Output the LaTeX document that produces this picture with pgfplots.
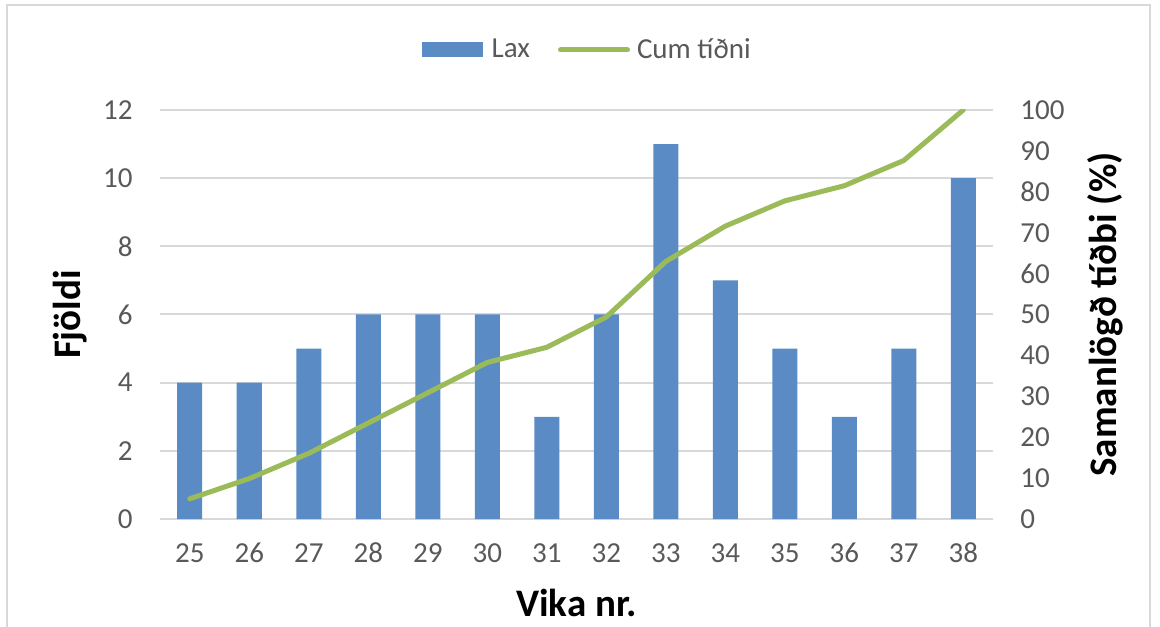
\documentclass[border=0pt]{standalone}
\usepackage{fontspec}
\setmainfont{Carlito}
\usepackage{pgfplots}
\pgfplotsset{compat=1.18}
\definecolor{barblue}{RGB}{91,139,197}
\definecolor{linegreen}{RGB}{155,187,89}
\definecolor{gridgray}{RGB}{217,217,217}
\definecolor{ticktext}{RGB}{89,89,89}
\begin{document}
\begin{tikzpicture}
\useasboundingbox (-80pt,-53.5pt) rectangle (500pt,259.5pt);
\draw[gridgray, line width=1pt] (-76.5pt,-60pt) -- (-76.5pt,257pt) -- (495pt,257pt) -- (495pt,-60pt);
\pgfplotsset{
  common/.style={
    scale only axis, width=416.5pt, height=204.5pt,
    at={(0,0)}, anchor=south west,
    xmin=24.5, xmax=38.5,
    /pgf/number format/assume math mode=true,
    tick style={draw=none},
    ticklabel style={font=\fontsize{14.5}{16}\selectfont, text=ticktext, inner sep=0pt},
  }
}
\begin{axis}[common,
  ymin=0, ymax=12, ytick={0,2,...,12},
  xtick={25,...,38},
  axis x line*=bottom, axis y line*=left,
  y axis line style={draw=none},
  x axis line style={gridgray, line width=1pt},
  ymajorgrids, grid style={gridgray, line width=1pt},
  yticklabel style={anchor=east, xshift=-13.5pt},
  xticklabel style={anchor=base, yshift=-21.5pt},
  xlabel={\textbf{Vika nr.}},
  xlabel style={font=\fontsize{19.5}{22}\selectfont, at={(axis description cs:0.5,0)}, anchor=center, yshift=-42pt},
  ylabel={\textbf{Fjöldi}},
  ylabel style={font=\fontsize{19.5}{22}\selectfont, at={(axis description cs:0,0.5)}, anchor=center, yshift=45pt},
  legend style={draw=none, at={(axis description cs:0.514,1)}, anchor=center, yshift=30pt,
    legend columns=2, font=\fontsize{14.5}{16}\selectfont, text=ticktext,
    /tikz/every even column/.append style={column sep=12pt},
    nodes={inner sep=2pt}},
]
\addplot[ybar, bar width=12.5pt, fill=barblue, draw=none,
  area legend,
  legend image code/.code={\fill[barblue] (0pt,-3.75pt) rectangle (30.5pt,3.75pt); \path (33pt,0pt);}]
  coordinates {(25,4) (26,4) (27,5) (28,6) (29,6) (30,6) (31,3) (32,6) (33,11) (34,7) (35,5) (36,3) (37,5) (38,10)};
\addlegendentry{Lax}
\addlegendimage{linegreen, line width=2.5pt, line cap=round,
  legend image code/.code={\draw[linegreen, line width=2.5pt, line cap=round] (0pt,0pt) -- (33.5pt,0pt); \path (35pt,0pt);}}
\addlegendentry{Cum tíðni}
\end{axis}
\begin{axis}[common,
  ymin=0, ymax=100, ytick={0,10,...,100},
  axis y line*=right, axis x line=none,
  y axis line style={draw=none},
  yticklabel style={anchor=west, xshift=13.5pt},
  ylabel={\textbf{Samanlögð tíðbi (\%)}},
  ylabel style={font=\fontsize{19.5}{22}\selectfont, at={(axis description cs:1,0.5)}, anchor=center, rotate=0, yshift=-56pt},
]
\addplot[linegreen, line width=2.5pt, line join=round, line cap=round]
  coordinates {(25,4.94) (26,9.88) (27,16.05) (28,23.46) (29,30.86) (30,38.27) (31,41.98) (32,49.38) (33,62.96) (34,71.60) (35,77.78) (36,81.48) (37,87.65) (38,100)};
\end{axis}
\end{tikzpicture}
\end{document}
